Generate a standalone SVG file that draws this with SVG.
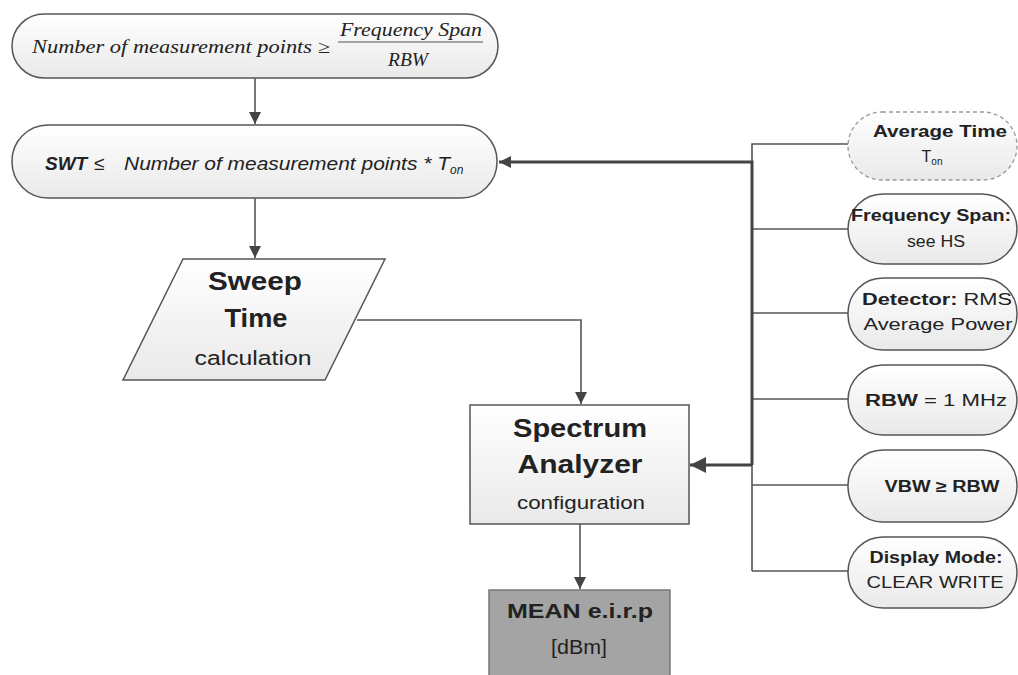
<svg xmlns="http://www.w3.org/2000/svg" width="1018" height="675" viewBox="0 0 1018 675">
<defs>
<linearGradient id="g" x1="0" y1="0" x2="0" y2="1">
<stop offset="0" stop-color="#ffffff"/>
<stop offset="1" stop-color="#e9e9e9"/>
</linearGradient>
<marker id="ah" viewBox="0 0 10 10" refX="10" refY="5" markerWidth="12" markerHeight="12" markerUnits="userSpaceOnUse" orient="auto">
<path d="M0,0 L10,5 L0,10 z" fill="#444"/>
</marker>
<marker id="ahb" viewBox="0 0 10 10" refX="10" refY="5" markerWidth="16" markerHeight="16" markerUnits="userSpaceOnUse" orient="auto">
<path d="M0,0 L10,5 L0,10 z" fill="#444"/>
</marker>
</defs>
<style>
.node{fill:url(#g);stroke:#555;stroke-width:1.5}
.dash{fill:url(#g);stroke:#999;stroke-width:1.3;stroke-dasharray:4 3}
.c{fill:none;stroke:#555;stroke-width:1.6}
.ct{fill:none;stroke:#444;stroke-width:3}
.s{font-family:"Liberation Sans",Arial,sans-serif;fill:#222}
.b{font-weight:bold}
.m{text-anchor:middle}
.f{font-family:"Liberation Serif","Times New Roman",serif;font-style:italic;fill:#222}
.r{font-size:16px}
</style>
<rect width="1018" height="675" fill="#ffffff"/>
<g id="connectors">
<line class="c" x1="255" y1="78" x2="255" y2="124" marker-end="url(#ah)"/>
<line class="c" x1="255" y1="198" x2="255" y2="258" marker-end="url(#ah)"/>
<polyline class="c" points="357,320 581,320 581,404" marker-end="url(#ah)"/>
<line class="c" x1="580" y1="524" x2="580" y2="589" marker-end="url(#ah)"/>
<polyline class="c" points="752,571 752,144 848,144"/>
<line class="c" x1="752" y1="229" x2="848" y2="229"/>
<line class="c" x1="752" y1="313" x2="848" y2="313"/>
<line class="c" x1="752" y1="399" x2="848" y2="399"/>
<line class="c" x1="752" y1="485" x2="848" y2="485"/>
<line class="c" x1="752" y1="571" x2="848" y2="571"/>
<polyline class="ct" points="752,465 752,162 499,162" stroke-width="2.2" marker-end="url(#ah)"/>
<polyline class="ct" points="752,465 690,465" marker-end="url(#ahb)"/>
</g>
<g id="n-points">
<rect class="node" x="12" y="14" width="486" height="64" rx="32"/>
<text class="f" x="32" y="53" font-size="18" textLength="298" lengthAdjust="spacingAndGlyphs">Number of measurement points ≥</text>
<text class="f m" x="411" y="36" font-size="18" textLength="142" lengthAdjust="spacingAndGlyphs">Frequency Span</text>
<line x1="338" y1="42" x2="483" y2="42" stroke="#555" stroke-width="1.2"/>
<text class="f m" x="408" y="66" font-size="18" textLength="40" lengthAdjust="spacingAndGlyphs">RBW</text>
</g>
<g id="n-swt">
<rect class="node" x="12" y="125" width="485" height="73" rx="36"/>
<text class="s" x="45" y="170" font-size="19" font-style="italic"><tspan font-weight="bold">SWT</tspan><tspan x="94">≤</tspan><tspan x="124" textLength="326" lengthAdjust="spacingAndGlyphs">Number of measurement points * T</tspan><tspan font-size="12" dy="4">on</tspan></text>
</g>
<g id="n-sweep">
<polygon class="node" points="183,259 385,259 325,380 123,380"/>
<text class="s b m" x="255" y="290" font-size="25" textLength="94" lengthAdjust="spacingAndGlyphs">Sweep</text>
<text class="s b m" x="256" y="327" font-size="25" textLength="63" lengthAdjust="spacingAndGlyphs">Time</text>
<text class="s m" x="253" y="365" font-size="20" textLength="117" lengthAdjust="spacingAndGlyphs">calculation</text>
</g>
<g id="n-sa">
<rect class="node" x="470" y="405" width="219" height="119"/>
<text class="s b m" x="580" y="437" font-size="25" textLength="134" lengthAdjust="spacingAndGlyphs">Spectrum</text>
<text class="s b m" x="580" y="473" font-size="25" textLength="125" lengthAdjust="spacingAndGlyphs">Analyzer</text>
<text class="s m" x="581" y="509" font-size="19" textLength="128" lengthAdjust="spacingAndGlyphs">configuration</text>
</g>
<g id="n-mean">
<rect x="489" y="590" width="181" height="100" fill="#a4a4a4" stroke="#777" stroke-width="1.5"/>
<text class="s b m" x="580" y="618" font-size="21" textLength="146" lengthAdjust="spacingAndGlyphs">MEAN e.i.r.p</text>
<text class="s m" x="579" y="654" font-size="20" fill="#333" textLength="56" lengthAdjust="spacingAndGlyphs">[dBm]</text>
</g>
<g id="n-avg">
<rect class="dash" x="848" y="112" width="169" height="68" rx="34"/>
<text class="s b m r" x="940" y="137" textLength="134" lengthAdjust="spacingAndGlyphs">Average Time</text>
<text class="s m r" x="932" y="162">T<tspan font-size="10" dy="3">on</tspan></text>
</g>
<g id="n-span">
<rect class="node" x="848" y="194" width="169" height="70" rx="35"/>
<text class="s b m r" x="931" y="221" textLength="160" lengthAdjust="spacingAndGlyphs">Frequency Span:</text>
<text class="s m r" x="936" y="247" textLength="58" lengthAdjust="spacingAndGlyphs">see HS</text>
</g>
<g id="n-det">
<rect class="node" x="848" y="278" width="169" height="72" rx="35"/>
<text class="s m r" x="937" y="305" textLength="150" lengthAdjust="spacingAndGlyphs"><tspan font-weight="bold">Detector:</tspan> RMS</text>
<text class="s m r" x="938" y="330" textLength="149" lengthAdjust="spacingAndGlyphs">Average Power</text>
</g>
<g id="n-rbw">
<rect class="node" x="848" y="365" width="169" height="70" rx="35"/>
<text class="s m r" x="936" y="406" textLength="142" lengthAdjust="spacingAndGlyphs"><tspan font-weight="bold">RBW</tspan> = 1 MHz</text>
</g>
<g id="n-vbw">
<rect class="node" x="848" y="450" width="169" height="72" rx="35"/>
<text class="s b m r" x="942" y="492" textLength="115" lengthAdjust="spacingAndGlyphs">VBW ≥ RBW</text>
</g>
<g id="n-disp">
<rect class="node" x="848" y="537" width="169" height="71" rx="35"/>
<text class="s b m r" x="936" y="563" textLength="133" lengthAdjust="spacingAndGlyphs">Display Mode:</text>
<text class="s m r" x="935" y="588" textLength="137" lengthAdjust="spacingAndGlyphs">CLEAR WRITE</text>
</g>
</svg>
